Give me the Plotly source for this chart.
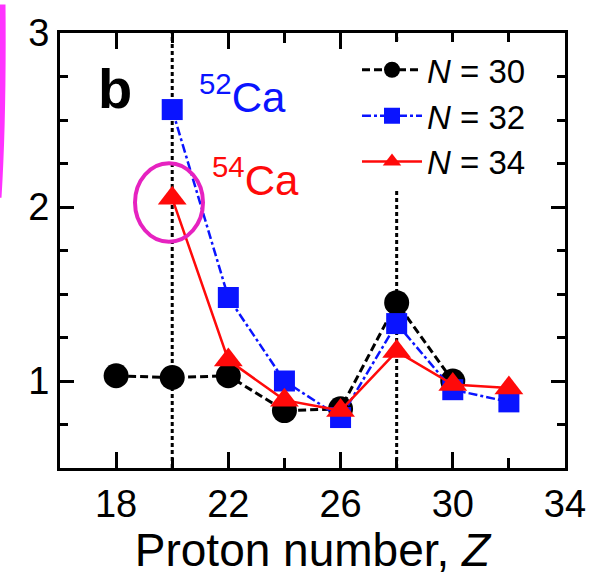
import plotly.graph_objects as go

# Data
Z30 = [18, 20, 22, 24, 26, 28, 30]
V30 = [1.03, 1.02, 1.03, 0.83, 0.84, 1.45, 1.00]
Z32 = [20, 22, 24, 26, 28, 30, 32]
V32 = [2.56, 1.48, 1.00, 0.79, 1.33, 0.95, 0.88]
Z34 = [20, 22, 24, 26, 28, 30, 32]
V34 = [2.05, 1.12, 0.89, 0.83, 1.17, 0.98, 0.96]
names = ["<i>N</i> = 30", "<i>N</i> = 32", "<i>N</i> = 34"]
ref_lines = [20, 28]

FONT = "Liberation Sans"

fig = go.Figure()
fig.add_trace(go.Scatter(x=Z30, y=V30, name=names[0], mode="lines+markers",
                         line=dict(color="black", width=3, dash="8px,4px"),
                         marker=dict(symbol="circle", size=25, color="black")))
fig.add_trace(go.Scatter(x=Z32, y=V32, name=names[1], mode="lines+markers",
                         line=dict(color="#0a14ff", width=2.5, dash="dashdot"),
                         marker=dict(symbol="square", size=21, color="#0a14ff")))
fig.add_trace(go.Scatter(x=Z34, y=V34, name=names[2], mode="lines+markers",
                         line=dict(color="#ff0a0a", width=2.5),
                         marker=dict(symbol="triangle-up", size=25, color="#ff0a0a")))

for xv in ref_lines:
    fig.add_shape(type="line", xref="x", yref="paper", x0=xv, x1=xv, y0=0, y1=1,
                  line=dict(color="black", width=3, dash="4px,3px"), layer="below")

# magenta highlights
L, R, T, B = 60, 565, 24, 468
def px(x): return (x - L) / (R - L)
def py(y): return (B - y) / (B - T)

fig.add_shape(type="circle", xref="paper", yref="paper",
              x0=px(135), x1=px(203), y0=py(237), y1=py(157),
              line=dict(color="#e622c0", width=4))
fig.add_shape(type="path", xref="paper", yref="paper",
              path=f"M {px(2)},{py(-5)} Q {px(3)},{py(110)} {px(-2)},{py(192)}",
              line=dict(color="#ff33ff", width=7))

fig.add_annotation(x=17.96, y=2.68, xref="x", yref="y", text="<b>b</b>", showarrow=False,
                   font=dict(family=FONT, size=56, color="black"))
fig.add_annotation(x=20.9, y=2.65, xref="x", yref="y", text="<sup>52</sup>Ca", showarrow=False,
                   xanchor="left", font=dict(family=FONT, size=42, color="#0a14ff"))
fig.add_annotation(x=21.35, y=2.17, xref="x", yref="y", text="<sup>54</sup>Ca", showarrow=False,
                   xanchor="left", font=dict(family=FONT, size=42, color="#ff0a0a"))

axis_common = dict(showline=True, linecolor="black", linewidth=3, mirror="allticks",
                   ticks="inside", tickcolor="black", tickwidth=2.5, showgrid=False,
                   zeroline=False, tickfont=dict(family=FONT, size=38, color="black"))

fig.update_xaxes(range=[16, 34], tick0=18, dtick=4, ticklen=16,
                 minor=dict(dtick=2, tick0=16, ticks="inside", ticklen=10, tickwidth=2.5, tickcolor="black"),
                 title=dict(text="Proton number, <i>Z</i>", font=dict(family=FONT, size=46, color="black"), standoff=6),
                 **axis_common)
fig.update_yaxes(range=[0.5, 3], tick0=1, dtick=1, ticklen=14,
                 minor=dict(dtick=0.25, tick0=0.5, ticks="inside", ticklen=8, tickwidth=2.5, tickcolor="black"),
                 **axis_common)

fig.update_layout(width=603, height=576,
                  margin=dict(l=L, r=603 - R, t=T, b=576 - B),
                  plot_bgcolor="white", paper_bgcolor="white",
                  font=dict(family=FONT, color="black"),
                  legend=dict(x=px(357), y=py(33), xanchor="left", yanchor="top",
                              bgcolor="white", font=dict(family=FONT, size=33, color="black"),
                              tracegroupgap=0, itemwidth=60))

fig.write_html("out.html")
